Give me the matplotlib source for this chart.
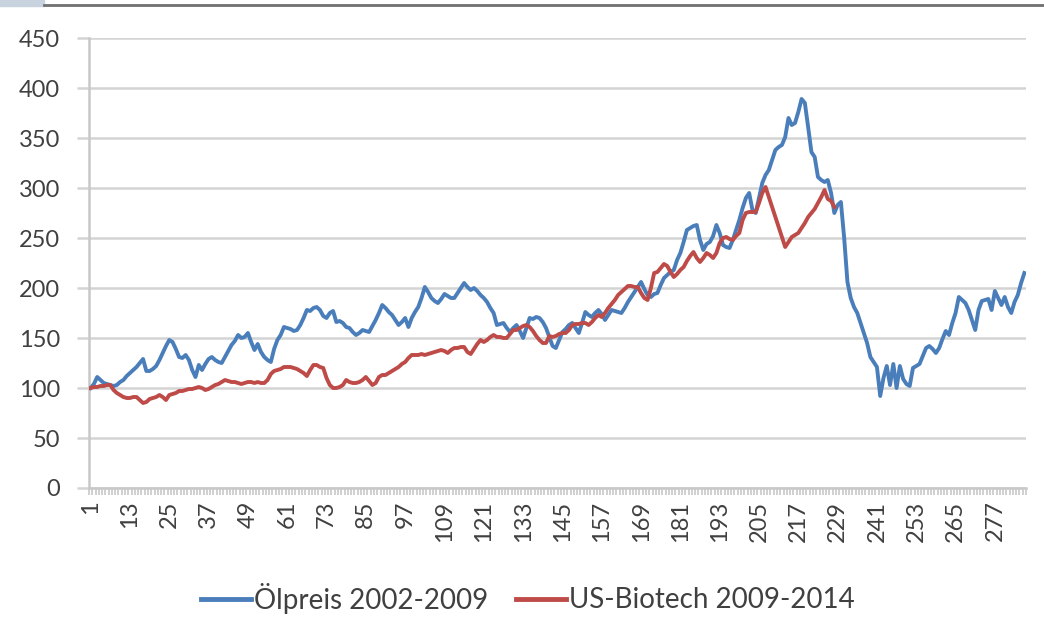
import numpy as np
import matplotlib.pyplot as plt
from matplotlib.patches import Rectangle
from matplotlib.lines import Line2D

BLUE = "#4A7EBB"
RED = "#BE4B48"
GRID = "#D4D4D4"
TEXT = "#404040"

# Ölpreis 2002-2009 (indexed, 286 points)
oil = [
    100, 104, 111, 108, 105, 104, 103, 102, 103, 106,
    108, 112, 115, 118, 121, 125, 129, 117, 117, 119,
    122, 128, 135, 142, 148, 146, 139, 131, 130, 133,
    128, 118, 111, 123, 118, 124, 129, 131, 128, 126,
    125, 131, 137, 143, 147, 153, 150, 151, 155, 146,
    138, 144, 136, 131, 128, 126, 139, 148, 153, 161,
    160, 159, 157, 158, 163, 170, 178, 177, 180, 181,
    178, 172, 170, 175, 177, 166, 167, 165, 161, 160,
    156, 153, 155, 158, 157, 156, 162, 168, 175, 183,
    180, 176, 173, 168, 163, 166, 170, 161, 170, 176,
    181, 190, 201, 196, 190, 187, 185, 189, 194, 192,
    190, 190, 195, 200, 205, 201, 198, 200, 197, 193,
    190, 186, 180, 175, 163, 164, 165, 160, 156, 160,
    163, 157, 150, 160, 170, 169, 171, 170, 166, 160,
    151, 142, 140, 148, 156, 159, 163, 165, 160, 155,
    165, 176, 173, 171, 175, 178, 174, 168, 173, 178,
    177, 176, 175, 180, 186, 191, 196, 201, 206, 199,
    193, 191, 194, 195, 203, 210, 213, 216, 218, 228,
    235, 246, 258, 260, 262, 263, 248, 238, 244, 246,
    252, 263, 255, 243, 241, 240, 248, 258, 268, 280,
    290, 295, 278, 275, 290, 305, 313, 318, 328, 338,
    341, 343, 351, 370, 363, 365, 376, 389, 385, 361,
    336, 331, 311, 308, 306, 308, 295, 275, 283, 286,
    250, 206, 190, 181, 175, 165, 155, 145, 131, 126,
    121, 92, 110, 122, 103, 124, 100, 122, 109, 104,
    102, 120, 122, 124, 132, 140, 142, 139, 135, 140,
    149, 157, 153, 165, 175, 191, 188, 185, 178, 168,
    158, 178, 187, 188, 189, 178, 197, 190, 183, 191,
    181, 175, 186, 193, 205, 215,
]

# US-Biotech 2009-2014 (indexed, 228 points)
biotech = [
    100, 101, 101, 102, 102, 103, 103, 98, 95, 93,
    91, 90, 90, 91, 91, 88, 85, 86, 89, 90,
    91, 93, 91, 88, 93, 94, 95, 97, 97, 98,
    99, 99, 100, 101, 100, 98, 99, 101, 103, 104,
    106, 108, 107, 106, 106, 105, 104, 105, 106, 106,
    105, 106, 105, 105, 108, 114, 117, 118, 119, 121,
    121, 121, 120, 119, 117, 115, 112, 118, 123, 123,
    121, 120, 110, 103, 100, 100, 101, 103, 108, 106,
    105, 105, 106, 108, 111, 107, 103, 105, 111, 113,
    113, 115, 117, 119, 121, 124, 126, 130, 133, 133,
    133, 134, 133, 134, 135, 136, 137, 138, 137, 135,
    138, 140, 140, 141, 141, 136, 134, 139, 144, 148,
    146, 148, 151, 153, 151, 151, 150, 150, 154, 158,
    158, 160, 162, 163, 161, 157, 152, 148, 145, 145,
    152, 151, 152, 154, 155, 155, 158, 163, 164, 164,
    165, 165, 163, 166, 170, 173, 171, 175, 180, 184,
    188, 193, 196, 199, 202, 202, 201, 201, 195, 190,
    188, 200, 215, 216, 220, 224, 222, 216, 211, 214,
    218, 221, 227, 232, 236, 230, 226, 230, 235, 233,
    230, 235, 245, 250, 251, 249, 248, 252, 255, 268,
    275, 276, 276, 276, 285, 295, 301, 291, 281, 271,
    261, 251, 241, 246, 251, 253, 255, 260, 265, 271,
    275, 279, 285, 291, 298, 289, 287, 281,
]

oil_x = np.arange(1, len(oil) + 1)
bio_x = np.arange(1, len(biotech) + 1)
label_pos = np.arange(1, len(oil) + 1, 12)

plt.rcParams["font.family"] = ["Lato", "DejaVu Sans"]

fig = plt.figure(figsize=(10.44, 6.36), dpi=100)
ax = fig.add_axes([89 / 1044, 1 - 488 / 636, (1026 - 89) / 1044, 450 / 636])

ax.plot(oil_x, oil, color=BLUE, linewidth=2.8, label="Ölpreis 2002-2009", zorder=3)
ax.plot(bio_x, biotech, color=RED, linewidth=2.8, label="US-Biotech 2009-2014", zorder=4)

ax.set_xlim(0.5, len(oil) + 0.5)
ax.set_ylim(0, 450)
ax.set_yticks(np.arange(0, 451, 50))
ax.set_xticks(label_pos)
ax.set_xticklabels([str(p) for p in label_pos], rotation=90)
ax.set_xticks(np.arange(0.5, len(oil) + 1, 1), minor=True)

ax.yaxis.grid(True, color=GRID, linewidth=1.8)
ax.set_axisbelow(True)
for side in ["top", "right"]:
    ax.spines[side].set_visible(False)
ax.spines["left"].set_color("#C8C8C8")
ax.spines["left"].set_linewidth(1.8)
ax.spines["bottom"].set_color("#C8C8C8")
ax.spines["bottom"].set_linewidth(1.8)

ax.tick_params(axis="y", length=9, width=1.8, color=GRID, labelsize=17,
               labelcolor=TEXT, pad=12)
ax.tick_params(axis="x", which="major", length=0, labelsize=17, labelcolor=TEXT, pad=9)
ax.tick_params(axis="x", which="minor", length=5, width=1.2, color="#C8C8C8")

handles = [Line2D([], [], color=BLUE, linewidth=3.5),
           Line2D([], [], color=RED, linewidth=3.5)]
fig.legend(handles, ["Ölpreis 2002-2009", "US-Biotech 2009-2014"],
           loc="center", bbox_to_anchor=(528 / 1044, 1 - 598 / 636), ncol=2,
           frameon=False, fontsize=20, handlelength=1.8, handletextpad=0.1,
           columnspacing=1.0, labelcolor=TEXT)

# window frame remnants at the top of the screenshot
fig.add_artist(Rectangle((0, 1 - 6 / 636), 44 / 1044, 6 / 636,
                         transform=fig.transFigure, color="#C9D3E0", zorder=0))
fig.add_artist(Line2D([44 / 1044, 1], [1 - 5 / 636, 1 - 5 / 636],
                      transform=fig.transFigure, color="#707070", linewidth=2))

fig.savefig("out.png", dpi=100)
